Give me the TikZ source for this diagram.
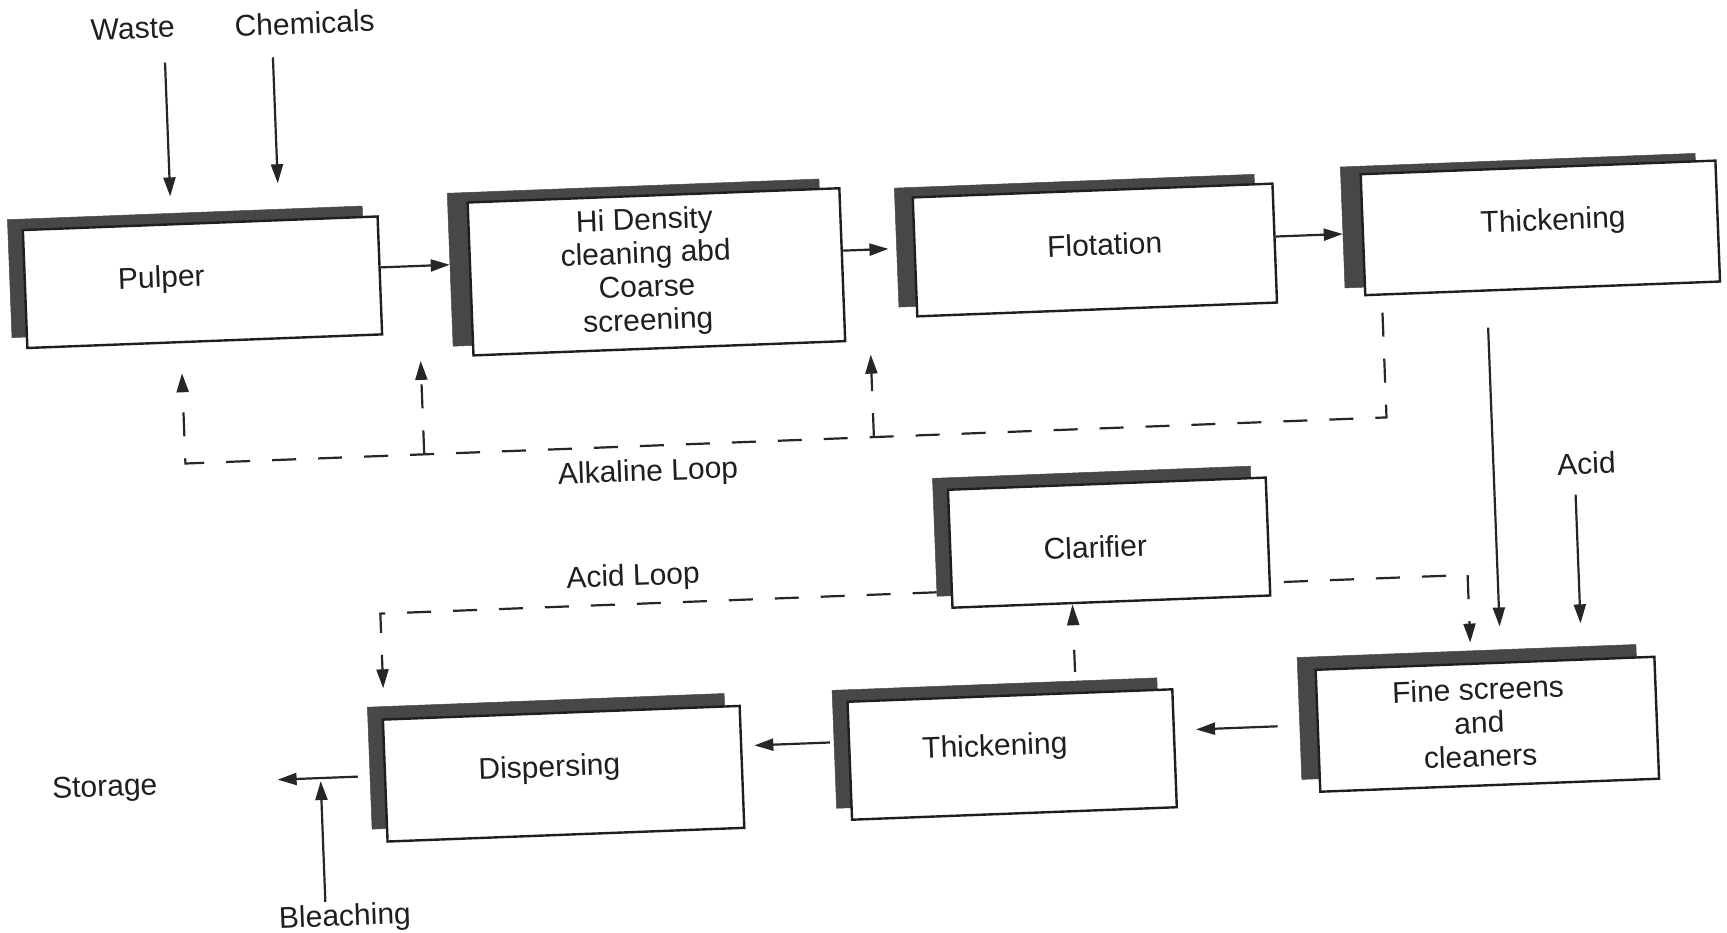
\documentclass[tikz,border=0pt]{standalone}
\usepackage{fontspec}
\setmainfont{Liberation Sans}
\usetikzlibrary{arrows.meta,calc}
\tikzset{
  txt/.style={font=\fontsize{30}{33.5}\selectfont, inner sep=0pt, align=center, text=black!88},
  frontbox/.style={draw=black!88, line width=2.4pt, fill=white, inner sep=0pt},
  shadebox/.style={fill=black!72, draw=black!72, line width=0.5pt, inner sep=0pt},
  arr/.style={line width=2.2pt, draw=black!85, -{Triangle[length=19pt,width=12pt]}},
  dashd/.style={line width=2.2pt, draw=black!85, dash pattern=on 24pt off 22pt},
  darr/.style={dashd, -{Triangle[length=19pt,width=12pt]}},
  darrshort/.style={line width=2.2pt, draw=black!85, dash pattern=on 22pt off 30pt, -{Triangle[length=21pt,width=12pt]}},
}
\newcommand\procbox[9]{%
  \node[shadebox, minimum width=#4pt, minimum height=#5pt] (#1s) at ({#2+(#6)},{#3+(#7)}) {};
  \node[frontbox, minimum width=#4pt, minimum height=#5pt] (#1) at (#2,#3) {};
  \node[txt] (#1t) at ($(#1)+(#8)$) {#9};
}
\begin{document}
\begin{tikzpicture}[x=1pt,y=-1pt]
\useasboundingbox (0,0) rectangle (1727,932);
\fill[white] (0,0) rectangle (1727,932);
\begin{scope}[transform canvas={rotate around={2.2:(863.5,466)}}]
% boxes
\procbox{pulper}{210}{257}{355}{118}{-15}{-11}{-41,-4}{Pulper}
\procbox{hid}{664}{264}{372}{153}{-20}{-10}{-10,0}{Hi Density\\cleaning abd\\Coarse\\screening}
\procbox{flot}{1103}{259}{360}{119}{-18}{-10}{10,-5}{Flotation}
\procbox{thka}{1549}{254}{355}{121}{-20}{-8}{13,-5}{Thickening}
\procbox{clar}{1106}{552}{318}{118}{-15}{-12}{-14,4}{Clarifier}
\procbox{fine}{1477}{748}{339}{122}{-18}{-13}{-8,-2}{Fine screens\\and\\cleaners}
\procbox{thkb}{1001}{760}{325}{118}{-15}{-12}{-17,-7}{Thickening}
\procbox{disp}{552}{762}{357}{122}{-15}{-13}{-14,-5}{Dispersing}
% free labels
\node[txt] (waste) at (150,1) {Waste};
\node[txt] (chem) at (322,2) {Chemicals};
\node[txt] (storage) at (93,760) {Storage};
\node[txt] (bleach) at (328,898) {Bleaching};
\node[txt] (acid) at (1586,491) {Acid};
\node[txt] (alk) at (648,465) {Alkaline Loop};
\node[txt] (acidloop) at (629,569) {Acid Loop};
% helper coordinates
\coordinate (w1) at (181,36);  \coordinate (w2) at (181,170);
\coordinate (c1) at (289,35);  \coordinate (c2) at (289,161);
\coordinate (y1) at (0,249);
\coordinate (y2) at (0,250);
\coordinate (y3) at (0,252.5);
\coordinate (x1) at (1493,0);
\coordinate (ac1) at (1574,522);
\coordinate (y4) at (0,742);
\coordinate (y5) at (0,741);
\coordinate (y6) at (0,757);
\coordinate (st1) at (266,757);
\coordinate (bl) at (309,760);
\coordinate (x6) at (1067,0);
\coordinate (akr) at (1388,437.5);
\coordinate (akl) at (186,437.5);
\coordinate (ab1) at (425,437.5); \coordinate (ab1t) at (425,344);
\coordinate (ab2) at (875,437.5); \coordinate (ab2t) at (875,355);
\coordinate (acr) at (1463,598);
\coordinate (acl) at (375,595);
% solid arrows
\draw[arr] (w1) -- (w2);
\draw[arr] (c1) -- (c2);
\draw[arr] (pulper.east |- y1) -- (hids.west |- y1);
\draw[arr, shorten >=8pt] (hid.east |- y2) -- (flots.west |- y2);
\draw[arr] (flot.east |- y3) -- (thkas.west |- y3);
\draw[arr, shorten <=36pt, shorten >=23pt] (thka.south -| x1) -- (fines.north -| x1);
\draw[arr, shorten >=23pt] (ac1) -- (fines.north -| ac1);
\draw[arr, shorten <=22pt, shorten >=21pt] (fines.west |- y4) -- (thkb.east |- y4);
\draw[arr, shorten <=4pt, shorten >=12pt] (thkbs.west |- y5) -- (disp.east |- y5);
\draw[arr, shorten <=12pt] (disps.west |- y6) -- (st1);
\draw[arr, shorten <=3pt] (bleach.north -| bl) -- (bl);
% dashed
\draw[darrshort, shorten <=9pt] (thkbs.north -| x6) -- (clar.south -| x6);
\draw[darr, shorten <=17pt, shorten >=30pt] (thka.south -| akr) -- (akr) -- (akl) -- (pulper.south -| akl);
\draw[darr] (ab1) -- (ab1t);
\draw[darr] (ab2) -- (ab2t);
\draw[darr, shorten <=13pt, shorten >=8pt] (clar.east |- acr) -- (acr) -- (fines.north -| acr);
\draw[darr, shorten >=18pt] (clars.west |- acl) -- (acl) -- (disps.north -| acl);
\end{scope}
\end{tikzpicture}
\end{document}
